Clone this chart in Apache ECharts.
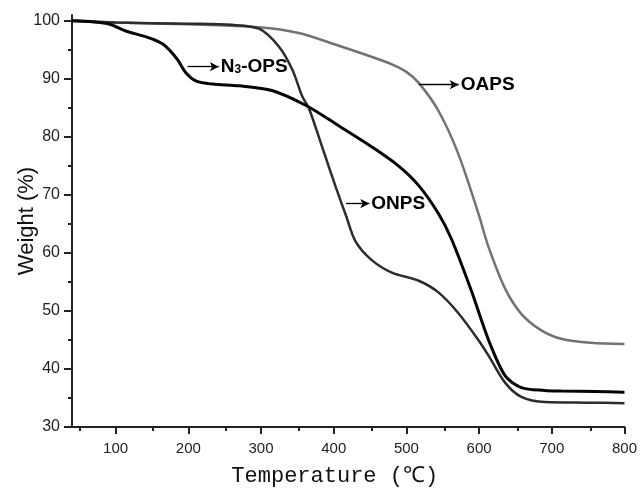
<!DOCTYPE html>
<html><head><meta charset="utf-8">
<script src="https://cdn.jsdelivr.net/npm/echarts@6/dist/echarts.min.js"></script>
<style>html,body{margin:0;padding:0;background:#fff}#c{width:640px;height:492px}</style>
</head><body><div id="c"></div>
<script>
// Tick labels
const xTicks = [100, 200, 300, 400, 500, 600, 700, 800];
const xMinorTicks = [50, 150, 250, 350, 450, 550, 650, 750];
const yTicks = [30, 40, 50, 60, 70, 80, 90, 100];
const yMinorTicks = [35, 45, 55, 65, 75, 85, 95];

// N3-OPS
const n3opsT = [40, 70, 92, 115, 143, 165, 184, 197, 211, 233, 270, 315, 362, 407, 452, 489, 517, 544, 562, 589, 613, 636, 658, 690, 713, 760, 800];
const n3opsW = [100, 99.8, 99.4, 98.2, 97.2, 96.0, 93.5, 91.0, 89.6, 89.1, 88.8, 88.0, 85.4, 81.9, 78.3, 75.0, 71.6, 66.8, 62.4, 53.6, 45.0, 38.8, 36.8, 36.3, 36.2, 36.1, 36.0];
// ONPS
const onpsT = [40, 100, 200, 260, 298, 325, 343, 357, 366, 384, 403, 417, 430, 452, 480, 517, 544, 571, 599, 613, 636, 658, 691, 750, 800];
const onpsW = [100, 99.7, 99.5, 99.3, 98.6, 95.5, 91.6, 86.9, 84.9, 78.3, 71.3, 66.4, 62.0, 58.8, 56.6, 55.2, 53.2, 49.7, 45.0, 42.3, 37.6, 35.2, 34.3, 34.2, 34.1];
// OAPS
const oapsT = [40, 100, 200, 297, 352, 407, 452, 480, 500, 517, 544, 571, 599, 613, 636, 658, 685, 713, 754, 800];
const oapsW = [100, 99.7, 99.4, 98.9, 97.9, 95.7, 93.8, 92.5, 91.2, 89.3, 84.5, 77.2, 66.8, 61.0, 53.8, 49.5, 46.7, 45.2, 44.5, 44.3];

// Annotation arrows: [startT, endT, W]
const n3opsArrow = [199, 242, 92.1];
const onpsArrow = [417, 449, 68.5];
const oapsArrow = [517, 572, 89.0];

const zip = (a, b) => a.map((v, i) => [v, b[i]]);
const font = '"Liberation Sans", Arial, sans-serif';

function arrow(a, name) {
  return {
    silent: true, animation: false, symbol: ['none', 'arrow'], symbolSize: [7, 9],
    lineStyle: { color: '#000', width: 1.3, type: 'solid' },
    label: {
      show: true, position: 'end', distance: 2, color: '#000',
      formatter: name,
      rich: {
        b: { fontFamily: font, fontWeight: 'bold', fontSize: 19, color: '#000' },
        s: { fontFamily: font, fontWeight: 'bold', fontSize: 12, color: '#000', padding: [6, 0, 0, 0] }
      }
    },
    emphasis: { disabled: true },
    data: [[{ coord: [a[0], a[2]] }, { coord: [a[1], a[2]] }]]
  };
}

function line(name, data, color, width, ann, label) {
  return {
    name, type: 'line', data, showSymbol: false, smooth: 0.3,
    lineStyle: { color, width }, itemStyle: { color }, animation: false, silent: true,
    markLine: arrow(ann, label)
  };
}

const chart = echarts.init(document.getElementById('c'));
const gridPos = { left: 72, right: 13, top: 15, bottom: 65 };
chart.setOption({
  backgroundColor: '#fff',
  animation: false,
  grid: [Object.assign({}, gridPos), Object.assign({}, gridPos)],
  xAxis: [{
    gridIndex: 0, type: 'value', min: 40, max: 800,
    name: 'Temperature (℃)', nameLocation: 'middle', nameGap: 38, nameMoveOverlap: false,
    nameTextStyle: { fontFamily: '"Liberation Mono", monospace', fontSize: 22, color: '#111', padding: [0, 27, 0, 0] },
    axisLine: { lineStyle: { color: '#222', width: 2 } },
    axisTick: { show: true, customValues: xTicks, length: 7, lineStyle: { color: '#222', width: 2 } },
    axisLabel: { customValues: xTicks, margin: 14, fontFamily: font, fontSize: 15, color: '#222' },
    splitLine: { show: false }
  }, {
    gridIndex: 1, type: 'value', min: 40, max: 800,
    axisLine: { show: false },
    axisTick: { show: true, customValues: xMinorTicks, length: 4, lineStyle: { color: '#222', width: 2 } },
    axisLabel: { show: false }, splitLine: { show: false }
  }],
  yAxis: [{
    gridIndex: 0, type: 'value', min: 30, max: 101,
    name: 'Weight (%)', nameLocation: 'middle', nameGap: 34, nameMoveOverlap: false,
    nameTextStyle: { fontFamily: font, fontSize: 22, color: '#111' },
    axisLine: { show: true, lineStyle: { color: '#222', width: 2 } },
    axisTick: { show: true, customValues: yTicks, length: 8, lineStyle: { color: '#222', width: 2 } },
    axisLabel: { customValues: yTicks, margin: 12, fontFamily: font, fontSize: 16, color: '#222' },
    splitLine: { show: false }
  }, {
    gridIndex: 1, type: 'value', min: 30, max: 101,
    axisLine: { show: false },
    axisTick: { show: true, customValues: yMinorTicks, length: 4, lineStyle: { color: '#222', width: 2 } },
    axisLabel: { show: false }, splitLine: { show: false }
  }],
  series: [
    line('OAPS', zip(oapsT, oapsW), '#727272', 2.5, oapsArrow, '{b|OAPS}'),
    line('ONPS', zip(onpsT, onpsW), '#2c2c2c', 2.5, onpsArrow, '{b|ONPS}'),
    line('N3-OPS', zip(n3opsT, n3opsW), '#050505', 3, n3opsArrow, '{b|N}{s|3}{b|-OPS}')
  ]
});
</script></body></html>
